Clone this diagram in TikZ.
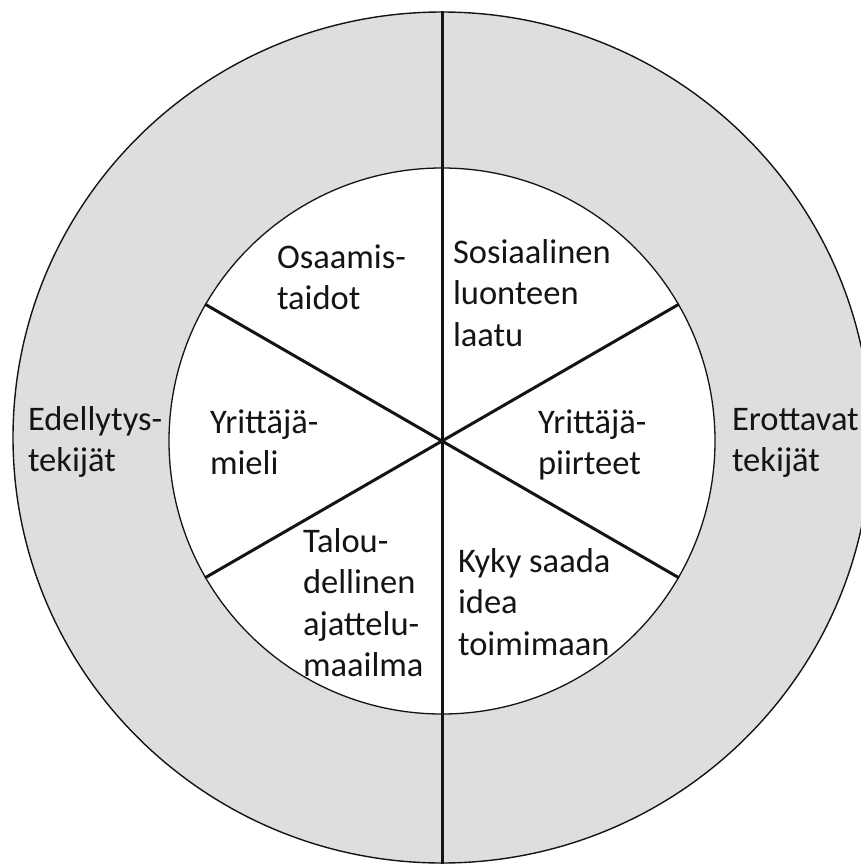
\documentclass[tikz,border=0pt]{standalone}
\usepackage{fontspec}
\setmainfont{Carlito}
\usetikzlibrary{shapes.geometric}
\definecolor{ringgray}{RGB}{222,222,222}
\definecolor{inkline}{RGB}{20,20,20}
\tikzset{
  % anchored at the baseline of the last line
  ringlabel/.style={anchor=base west, align=left, inner sep=0pt, outer sep=0pt,
    font=\fontsize{34.5}{41.5}\selectfont, text=inkline},
  spoke/.style={draw=inkline, line width=3pt},
}
\begin{document}
\begin{tikzpicture}[x=1pt, y=-1pt]
  \useasboundingbox (0,0) rectangle (860,867);
  % outer ring
  \node[ellipse, draw=inkline, line width=1.4pt, fill=ringgray, inner sep=0pt,
        minimum width=858pt, minimum height=851pt] (outer) at (442,437.5) {};
  % inner disc
  \node[circle, draw=inkline, line width=1.3pt, fill=white, inner sep=0pt,
        minimum size=546pt] (inner) at (442,441) {};
  % dividing lines
  \draw[spoke] (outer.north) -- (outer.south);
  \draw[spoke] (inner.150) -- (inner.-30);
  \draw[spoke] (inner.30) -- (inner.-150);
  % sector labels
  \node[ringlabel] (osaamis) at (277,309.5) {Osaamis-\\taidot};
  \node[ringlabel] (sosiaal) at (453,346) {Sosiaalinen\\luonteen\\laatu};
  \node[ringlabel] (ymieli) at (210,474.5) {Yrittäjä-\\mieli};
  \node[ringlabel] (ypiirt) at (538,474.5) {Yrittäjä-\\piirteet};
  \node[ringlabel] (talous) at (303,676.5) {Talou-\\dellinen\\ajattelu-\\maailma};
  \node[ringlabel] (kyky) at (458,655) {Kyky saada\\idea\\toimimaan};
  % ring labels
  \node[ringlabel] (edell) at (28,471.5) {Edellytys-\\tekijät};
  \node[ringlabel] (erott) at (732,471.5) {Erottavat\\tekijät};
\end{tikzpicture}
\end{document}
